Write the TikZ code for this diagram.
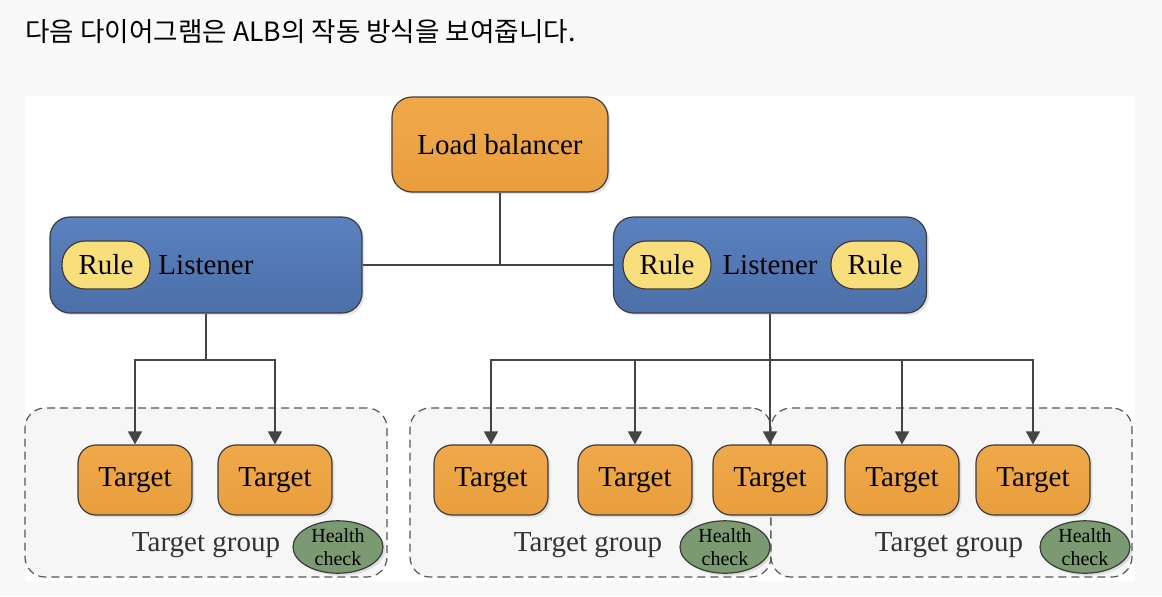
\documentclass[tikz,border=0pt]{standalone}
\usepackage{fontspec}
\setmainfont{Liberation Serif}
\newfontfamily\krfont{Noto Sans CJK KR}
\usepackage{tikz}
\usetikzlibrary{shapes, arrows.meta, positioning, shadows}
\definecolor{pagebg}{HTML}{F9F9F9}
\definecolor{boxline}{HTML}{3C3C3C}
\definecolor{lbtop}{HTML}{EFA94A}
\definecolor{lbbot}{HTML}{E99E3D}
\definecolor{listop}{HTML}{5B81BE}
\definecolor{lisbot}{HTML}{4A6FA9}
\definecolor{rulefill}{HTML}{F9DE7C}
\definecolor{hcfill}{HTML}{7C9A72}
\definecolor{groupfill}{HTML}{F6F6F6}
\definecolor{wire}{HTML}{444444}
\tikzstyle{shade} = [drop shadow={opacity=0.2, shadow xshift=1.2pt, shadow yshift=-1.2pt}]
\tikzstyle{lbnode} = [rectangle, rounded corners=10pt, draw=boxline, line width=0.6pt, top color=lbtop, bottom color=lbbot, shade, font=\fontsize{14.5}{16}\selectfont]
\tikzstyle{lisnode} = [rectangle, rounded corners=10pt, draw=boxline, line width=0.6pt, top color=listop, bottom color=lisbot, shade, minimum height=48pt, font=\fontsize{14.5}{16}\selectfont]
\tikzstyle{rulenode} = [rectangle, rounded corners=11.5pt, draw=boxline, line width=0.6pt, fill=rulefill, shade, minimum width=44pt, minimum height=24pt, inner sep=0pt, font=\fontsize{14.5}{16}\selectfont]
\tikzstyle{tnode} = [rectangle, rounded corners=9pt, draw=boxline, line width=0.6pt, top color=lbtop, bottom color=lbbot, shade, minimum width=57pt, minimum height=35pt, inner sep=0pt, font=\fontsize{14.5}{16}\selectfont]
\tikzstyle{group} = [rectangle, rounded corners=10pt, draw=wire!90, dashed, dash pattern=on 4pt off 2.5pt, line width=0.6pt, fill=groupfill, minimum height=84.5pt]
\tikzstyle{hcnode} = [ellipse, draw=boxline, line width=0.6pt, fill=hcfill, shade, minimum width=45pt, minimum height=25pt, inner sep=0pt, align=center, font=\fontsize{10}{11.5}\selectfont]
\tikzstyle{gtext} = [font=\fontsize{14.5}{16}\selectfont, text=black!80]
\tikzstyle{line} = [draw=wire, line width=0.75pt]
\tikzstyle{arrow} = [draw=wire, line width=0.75pt, -{Triangle[width=7pt, length=6.5pt]}]

\begin{document}
\begin{tikzpicture}[x=0.5pt, y=-0.5pt]
	\fill [pagebg] (0,0) rectangle (1162,596);
	\fill [white] (25,96) rectangle (1135,581);
	\node [anchor=base west, inner sep=0pt, font=\krfont\fontsize{13.3}{16}\selectfont] (title) at (25,41) {다음 다이어그램은 ALB의 작동 방식을 보여줍니다.};

	% target groups
	\node [group, minimum width=181pt] (g1) at (206,492.5) {};
	\node [group, minimum width=180.5pt] (g2) at (590.5,492.5) {};
	\node [group, minimum width=180.5pt] (g3) at (951.5,492.5) {};
	\node [gtext] (g1txt) at (206,545) {Target group};
	\node [gtext] (g2txt) at (588,545) {Target group};
	\node [gtext] (g3txt) at (949,545) {Target group};
	\node [hcnode] (hc1) at (338,547) {Health\\check};
	\node [hcnode] (hc2) at (725,547) {Health\\check};
	\node [hcnode] (hc3) at (1085,547) {Health\\check};

	\node [lbnode, minimum width=108pt, minimum height=47.5pt] (lb) at (500,144.5) {Load balancer};
	\node [lisnode, minimum width=156pt] (lis1) at (206,265) {Listener};
	\node [lisnode, minimum width=156.5pt] (lis2) at (770,265) {Listener};
	\node [rulenode] (rule1) at (106,265) {Rule};
	\node [rulenode] (rule2) at (667,265) {Rule};
	\node [rulenode] (rule3) at (875,265) {Rule};

	\node [tnode] (t1) at (135,480) {Target};
	\node [tnode] (t2) at (275,480) {Target};
	\node [tnode] (t3) at (491,480) {Target};
	\node [tnode] (t4) at (635,480) {Target};
	\node [tnode] (t5) at (770,480) {Target};
	\node [tnode] (t6) at (902,480) {Target};
	\node [tnode] (t7) at (1033,480) {Target};

	\coordinate (lbjoin) at (500,265);
	\coordinate (join1) at (206,360);
	\coordinate (join2) at (770,360);

	\path [line] (lb) -- (lbjoin);
	\path [line] (lis1) -- (lis2);
	\path [line] (lis1) -- (join1);
	\path [arrow] (join1) -| (t1);
	\path [arrow] (join1) -| (t2);
	\path [arrow] (lis2) -- (t5);
	\path [arrow] (join2) -| (t3);
	\path [arrow] (join2) -| (t4);
	\path [arrow] (join2) -| (t6);
	\path [arrow] (join2) -| (t7);
\end{tikzpicture}
\end{document}
